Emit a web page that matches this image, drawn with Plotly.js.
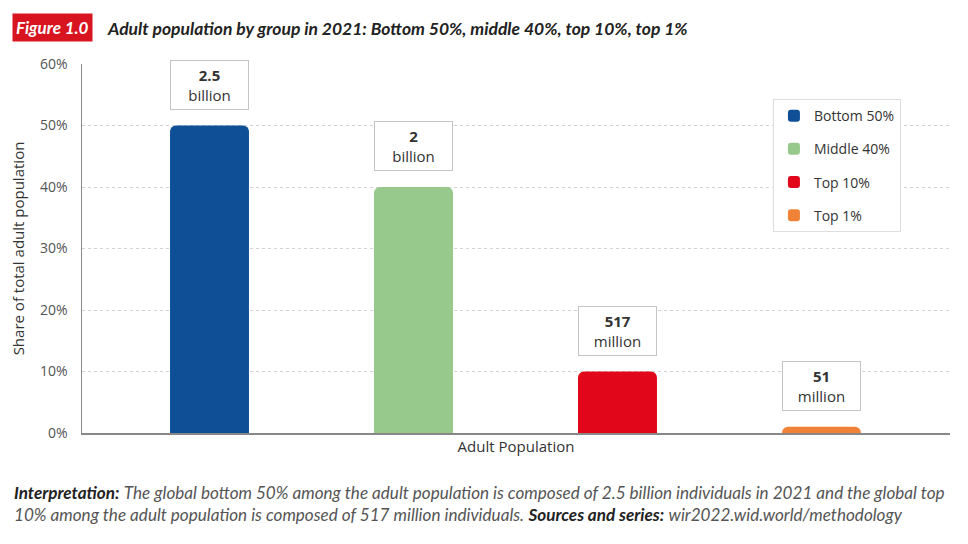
<!DOCTYPE html>
<html>
<head>
<meta charset="utf-8">
<script src="https://cdn.plot.ly/plotly-3.0.1.min.js"></script>
<style>html,body{margin:0;padding:0;background:#fff;}#chart{width:968px;height:544px;}</style>
</head>
<body>
<div id="chart"></div>
<script>
const groups = ["Bottom 50%", "Middle 40%", "Top 10%", "Top 1%"];
const shares = [50, 40, 10, 1];
const labelTop = ["2.5", "2", "517", "51"];
const labelUnit = ["billion", "billion", "million", "million"];
const colors = ["#0e4f96", "#96c98b", "#e1061a", "#ef8237"];
const yTicks = [0, 10, 20, 30, 40, 50, 60];
const yTickText = yTicks.map(v => v + "%");

const FONT = "Open Sans, Lato, sans-serif";

const traces = groups.map((g, i) => ({
  type: "bar",
  name: g,
  x: [g],
  y: [shares[i]],
  marker: { color: colors[i], cornerradius: 6 },
  width: 0.387,
  legendgroup: g,
  hoverinfo: "skip"
}));

const annotations = groups.map((g, i) => ({
  xref: "x", yref: "y",
  x: g, y: shares[i],
  yanchor: "bottom", yshift: 16,
  text: "<b>" + labelTop[i] + "</b><br>" + labelUnit[i],
  showarrow: false,
  font: { family: FONT, size: 15, color: "#333" },
  bgcolor: "#ffffff",
  bordercolor: "#c4c4c4",
  borderwidth: 1,
  borderpad: 1,
  width: 75,
  height: 46
}));

annotations.push({
  xref: "paper", yref: "paper",
  x: -0.0806, y: 1.1, xanchor: "left", yanchor: "middle",
  text: "<b><i>Figure 1.0</i></b>",
  showarrow: false,
  font: { family: "Lato, sans-serif", size: 17, color: "#ffffff" },
  bgcolor: "#d7141f",
  borderpad: 3
});

annotations.push({
  xref: "paper", yref: "paper",
  x: -0.0806, y: -0.128, xanchor: "left", yanchor: "top",
  align: "left",
  text: "<b><i><span style='color:#222'>Interpretation:</span></i></b> <i>The global bottom 50% among the adult population is composed of 2.5 billion individuals in 2021 and the global top</i><br>" +
        "<i>10% among the adult population is composed of 517 million individuals.</i> <b><i><span style='color:#222'>Sources and series:</span></i></b> <i>wir2022.wid.world/methodology</i>",
  showarrow: false,
  font: { family: "Lato, sans-serif", size: 17.1, color: "#555" }
});

const layout = {
  width: 968, height: 544,
  margin: { l: 82, r: 18, t: 64, b: 111 },
  paper_bgcolor: "#ffffff",
  plot_bgcolor: "#ffffff",
  font: { family: FONT, size: 14, color: "#444" },
  title: {
    text: "<b><i>Adult population by group in 2021: Bottom 50%, middle 40%, top 10%, top 1%</i></b>",
    x: 108 / 968, xanchor: "left", xref: "container",
    y: 1 - 29 / 544, yanchor: "middle", yref: "container",
    font: { family: "Lato, sans-serif", size: 17.5, color: "#222" }
  },
  barmode: "overlay",
  xaxis: {
    type: "category",
    range: [-0.625, 3.63],
    showticklabels: false,
    ticks: "",
    showgrid: false,
    showline: true, linecolor: "#888", linewidth: 1.5,
    title: { text: "Adult Population", standoff: 8, font: { family: FONT, size: 15, color: "#333" } },
    fixedrange: true
  },
  yaxis: {
    range: [0, 60],
    tickvals: yTicks,
    ticktext: yTickText,
    showgrid: true, gridcolor: "#d2d2d2", griddash: "dot", gridwidth: 1,
    zeroline: false,
    showline: true, linecolor: "#888", linewidth: 1.5,
    ticks: "", ticklabelstandoff: 10,
    tickfont: { family: FONT, size: 14, color: "#555" },
    title: { text: "Share of total adult population", standoff: 12, font: { family: FONT, size: 15, color: "#333" } },
    fixedrange: true
  },
  legend: {
    x: 0.796, y: 0.905, xanchor: "left", yanchor: "top",
    bgcolor: "#ffffff", bordercolor: "#dddddd", borderwidth: 1,
    traceorder: "grouped", tracegroupgap: 12,
    font: { family: FONT, size: 14, color: "#333" }
  },
  showlegend: true,
  annotations: annotations
};

Plotly.newPlot("chart", traces, layout, { displayModeBar: false, staticPlot: true });
</script>
</body>
</html>
